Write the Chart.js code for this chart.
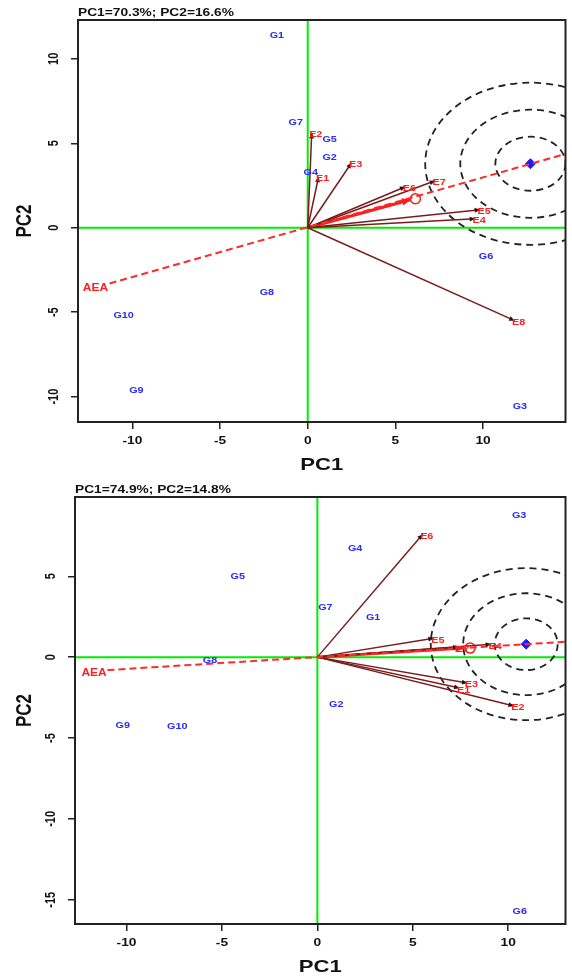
<!DOCTYPE html>
<html>
<head>
<meta charset="utf-8">
<script src="https://cdn.jsdelivr.net/npm/chart.js@4.4.1/dist/chart.umd.min.js"></script>
<style>
  html, body { margin: 0; padding: 0; background: #fff; }
  #wrap { position: relative; width: 572px; height: 977px; }
  canvas { position: absolute; left: 0; }
  #chartTop { top: 0; }
  #chartBottom { top: 480px; }
</style>
</head>
<body>
<div id="wrap">
  <canvas id="chartTop" width="572" height="480"></canvas>
  <canvas id="chartBottom" width="572" height="497"></canvas>
</div>
<script>
// ---- top biplot ----
const topTitle = "PC1=70.3%; PC2=16.6%";
const topGenos = ["G1", "G2", "G3", "G4", "G5", "G6", "G7", "G8", "G9", "G10"];
const topGenoX = [-1.76, 1.25, 12.1, 0.17, 1.25, 10.17, -0.68, -2.33, -9.77, -10.5];
const topGenoY = [11.36, 4.14, -10.6, 3.25, 5.2, -1.72, 6.21, -3.85, -9.64, -5.2];
const topEnvs = ["E1", "E2", "E3", "E4", "E5", "E6", "E7", "E8"];
const topEnvX = [0.62, 0.23, 2.5, 9.55, 9.83, 5.57, 7.27, 11.8];
const topEnvY = [3.02, 5.62, 3.85, 0.53, 1.07, 2.43, 2.78, -5.5];
const topIdeal = [12.7, 3.79];
const topAvgTip = [5.85, 1.66];
const topAvgMark = [6.14, 1.72];
const topAeaLabel = [-12.1, -3.6];
const topAeaX = [-11.3, 14.7];
const topAeaY = [-3.3, 4.37];
const topRingRx = [2.0, 4.0, 6.0];
const topRingRy = [1.6, 3.2, 4.8];
const topXRange = [-13.1, 14.7];
const topYRange = [-11.5, 12.3];
const topXTicks = [-10, -5, 0, 5, 10];
const topYTicks = [-10, -5, 0, 5, 10];

// ---- bottom biplot ----
const botTitle = "PC1=74.9%; PC2=14.8%";
const botGenos = ["G1", "G2", "G3", "G4", "G5", "G6", "G7", "G8", "G9", "G10"];
const botGenoX = [2.92, 0.99, 10.57, 1.98, -4.17, 10.6, 0.42, -5.63, -10.2, -7.34];
const botGenoY = [2.47, -2.96, 8.77, 6.73, 5.0, -15.7, 3.09, -0.19, -4.2, -4.32];
const botEnvs = ["E1", "E2", "E3", "E4", "E5", "E6", "E7"];
const botEnvX = [7.45, 10.3, 7.86, 9.1, 6.1, 5.52, 7.4];
const botEnvY = [-1.91, -3.02, -1.6, 0.8, 1.17, 7.6, 0.62];
const botIdeal = [10.94, 0.8];
const botAvgTip = [7.66, 0.56];
const botAvgMark = [8.0, 0.56];
const botAeaLabel = [-11.7, -0.99];
const botAeaX = [-11.0, 13.1];
const botAeaY = [-0.8, 0.96];
const botRingRx = [1.65, 3.3, 5.0];
const botRingRy = [1.6, 3.15, 4.7];
const botXRange = [-12.7, 13.0];
const botYRange = [-16.5, 9.9];
const botXTicks = [-10, -5, 0, 5, 10];
const botYTicks = [-15, -10, -5, 0, 5];

const FONT = "'Liberation Sans', Arial, sans-serif";
const GENO_COLOR = "#2b2bff";
const ENV_COLOR = "#ff1f1f";
const ARROW_COLOR = "#7a1c1c";

// text with a slight horizontal stretch, like the reference image
function drawText(ctx, text, x, y, size, color, sx, rot, align) {
  ctx.save();
  ctx.translate(x, y);
  ctx.scale(sx, 1);
  if (rot) ctx.rotate(rot);
  ctx.font = "bold " + size + "px " + FONT;
  ctx.fillStyle = color;
  ctx.textAlign = align || "center";
  ctx.textBaseline = "middle";
  ctx.fillText(text, 0, 0);
  ctx.restore();
}

function arrowHead(ctx, x0, y0, x1, y1, len, color) {
  const ang = Math.atan2(y1 - y0, x1 - x0);
  ctx.save();
  ctx.fillStyle = color;
  ctx.beginPath();
  ctx.moveTo(x1, y1);
  ctx.lineTo(x1 - len * Math.cos(ang - 0.42), y1 - len * Math.sin(ang - 0.42));
  ctx.lineTo(x1 - len * Math.cos(ang + 0.42), y1 - len * Math.sin(ang + 0.42));
  ctx.closePath();
  ctx.fill();
  ctx.restore();
}

function makeBiplot(canvasId, d) {
  const pts = (xs, ys) => xs.map((v, i) => ({ x: v, y: ys[i] }));
  const datasets = [];
  datasets.push({
    kind: "aea", data: pts(d.aeaX, d.aeaY), showLine: true,
    borderColor: "#ff2b2b", borderDash: [7, 4], borderWidth: 2, pointRadius: 0
  });
  d.envs.forEach((e, i) => {
    datasets.push({
      kind: "env", label: e, data: [{ x: 0, y: 0 }, { x: d.envX[i], y: d.envY[i] }],
      showLine: true, borderColor: ARROW_COLOR, borderWidth: 1.5, pointRadius: 0
    });
  });
  datasets.push({
    kind: "avg", data: [{ x: 0, y: 0 }, { x: d.avgTip[0], y: d.avgTip[1] }],
    showLine: true, borderColor: "#ff1a1a", borderWidth: 3, pointRadius: 0
  });
  datasets.push({
    kind: "avgMark", data: [{ x: d.avgMark[0], y: d.avgMark[1] }],
    pointRadius: 5, pointBorderColor: "#ff1a1a", pointBackgroundColor: "rgba(0,0,0,0)", pointBorderWidth: 1.5
  });
  datasets.push({
    kind: "ideal", data: [{ x: d.ideal[0], y: d.ideal[1] }],
    pointStyle: "rectRot", pointRadius: 5, pointBackgroundColor: "#1a1aff", pointBorderColor: "#1a1aff"
  });
  datasets.push({ kind: "geno", data: pts(d.genoX, d.genoY), pointRadius: 0 });

  const biplotDraw = {
    id: "biplotDraw",
    beforeDatasetsDraw(chart) {
      const { ctx, chartArea: a, scales: { x, y } } = chart;
      ctx.save();
      ctx.strokeStyle = "#00ee00";
      ctx.lineWidth = 2;
      const px0 = x.getPixelForValue(0), py0 = y.getPixelForValue(0);
      ctx.beginPath();
      ctx.moveTo(px0, a.top); ctx.lineTo(px0, a.bottom);
      ctx.moveTo(a.left, py0); ctx.lineTo(a.right, py0);
      ctx.stroke();
      // concentric rings round the ideal entry
      ctx.beginPath();
      ctx.rect(a.left, a.top, a.right - a.left, a.bottom - a.top);
      ctx.clip();
      ctx.setLineDash([7, 5]);
      ctx.strokeStyle = "#222";
      ctx.lineWidth = 1.8;
      const cx = x.getPixelForValue(d.ideal[0]), cy = y.getPixelForValue(d.ideal[1]);
      d.ringRx.forEach((r, i) => {
        const rx = x.getPixelForValue(d.ideal[0] + r) - cx;
        const ry = cy - y.getPixelForValue(d.ideal[1] + d.ringRy[i]);
        ctx.beginPath();
        ctx.ellipse(cx, cy, rx, ry, 0, 0, Math.PI * 2);
        ctx.stroke();
      });
      ctx.restore();
    },
    afterDatasetsDraw(chart) {
      const { ctx, scales: { x, y } } = chart;
      chart.data.datasets.forEach((ds, i) => {
        const els = chart.getDatasetMeta(i).data;
        if (ds.kind === "env") {
          arrowHead(ctx, els[0].x, els[0].y, els[1].x, els[1].y, 6, "#3a0c0c");
          drawText(ctx, ds.label, els[1].x + 4, els[1].y + 2, 9, ENV_COLOR, 1.2);
        } else if (ds.kind === "avg") {
          arrowHead(ctx, els[0].x, els[0].y, els[1].x, els[1].y, 9, "#ff1a1a");
        } else if (ds.kind === "geno") {
          els.forEach((el, j) => drawText(ctx, d.genos[j], el.x, el.y, 9, GENO_COLOR, 1.2));
        }
      });
      drawText(ctx, "AEA", x.getPixelForValue(d.aeaLabel[0]), y.getPixelForValue(d.aeaLabel[1]),
        10, "#ff1f1f", 1.2);
    },
    afterDraw(chart) {
      const { ctx, chartArea: a, scales: { x, y } } = chart;
      ctx.save();
      ctx.strokeStyle = "#222";
      ctx.lineWidth = 2;
      ctx.strokeRect(a.left, a.top, a.right - a.left, a.bottom - a.top);
      ctx.restore();
      d.xTicks.forEach(v => drawText(ctx, String(v), x.getPixelForValue(v), a.bottom + 19, 11, "#111", 1.25));
      d.yTicks.forEach(v => drawText(ctx, String(v), a.left - 24, y.getPixelForValue(v), 11, "#111", 1.25, -Math.PI / 2));
      drawText(ctx, "PC1", (a.left + a.right) / 2, a.bottom + 43, 17, "#111", 1.3);
      drawText(ctx, "PC2", 25, (a.top + a.bottom) / 2, 17, "#111", 1.3, -Math.PI / 2);
      drawText(ctx, d.title, a.left, a.top - 7, 11, "#111", 1.25, 0, "left");
    }
  };

  return new Chart(document.getElementById(canvasId), {
    type: "scatter",
    data: { datasets },
    options: {
      responsive: false,
      animation: false,
      events: [],
      layout: { padding: { left: 0, top: d.padTop, right: 4, bottom: 0 } },
      plugins: { legend: { display: false }, tooltip: { enabled: false } },
      scales: {
        x: {
          type: "linear", min: d.xRange[0], max: d.xRange[1],
          afterBuildTicks: s => { s.ticks = d.xTicks.map(v => ({ value: v })); },
          afterFit: s => { s.height = d.xAxisH; },
          ticks: { display: false },
          grid: { drawOnChartArea: false, drawTicks: true, tickLength: 7, color: "#222", lineWidth: 1.5 },
          border: { display: false }
        },
        y: {
          type: "linear", min: d.yRange[0], max: d.yRange[1],
          afterBuildTicks: s => { s.ticks = d.yTicks.map(v => ({ value: v })); },
          afterFit: s => { s.width = d.yAxisW; },
          ticks: { display: false },
          grid: { drawOnChartArea: false, drawTicks: true, tickLength: 7, color: "#222", lineWidth: 1.5 },
          border: { display: false }
        }
      }
    },
    plugins: [biplotDraw]
  });
}

makeBiplot("chartTop", {
  title: topTitle, genos: topGenos, genoX: topGenoX, genoY: topGenoY,
  envs: topEnvs, envX: topEnvX, envY: topEnvY, ideal: topIdeal,
  avgTip: topAvgTip, avgMark: topAvgMark, aeaLabel: topAeaLabel, aeaX: topAeaX, aeaY: topAeaY,
  ringRx: topRingRx, ringRy: topRingRy, xRange: topXRange, yRange: topYRange,
  xTicks: topXTicks, yTicks: topYTicks,
  padTop: 20, xAxisH: 58, yAxisW: 78
});

makeBiplot("chartBottom", {
  title: botTitle, genos: botGenos, genoX: botGenoX, genoY: botGenoY,
  envs: botEnvs, envX: botEnvX, envY: botEnvY, ideal: botIdeal,
  avgTip: botAvgTip, avgMark: botAvgMark, aeaLabel: botAeaLabel, aeaX: botAeaX, aeaY: botAeaY,
  ringRx: botRingRx, ringRy: botRingRy, xRange: botXRange, yRange: botYRange,
  xTicks: botXTicks, yTicks: botYTicks,
  padTop: 17, xAxisH: 53, yAxisW: 75
});
</script>
</body>
</html>
